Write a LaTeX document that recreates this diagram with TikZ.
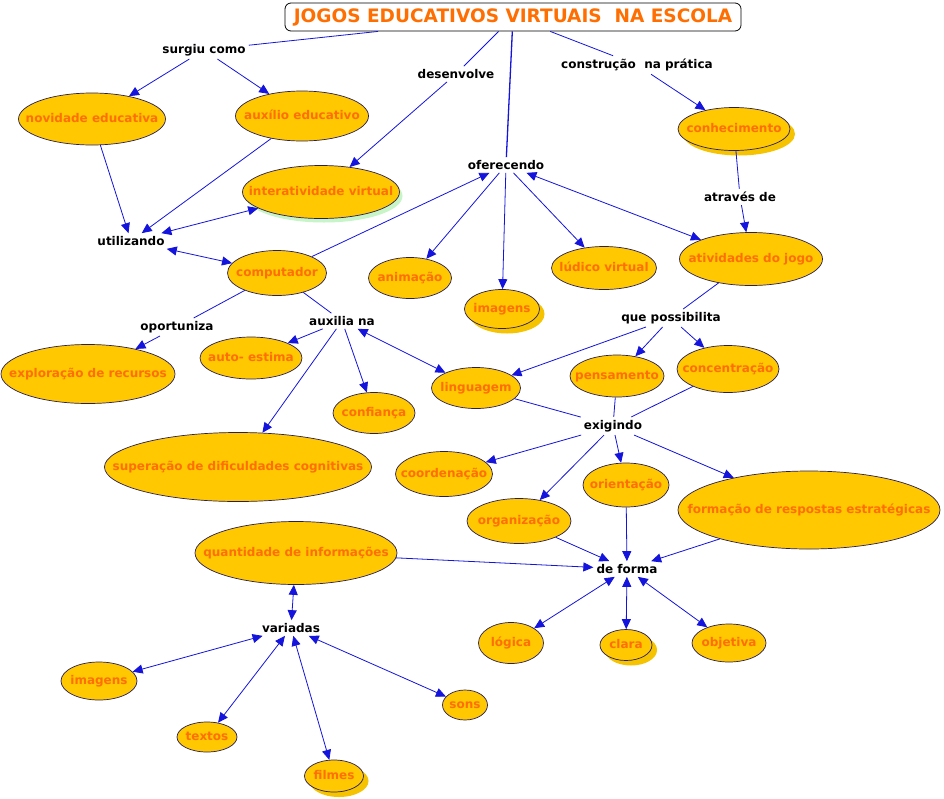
\documentclass[tikz,border=0pt]{standalone}
\usepackage{fontspec}
\setmainfont{DejaVu Sans}
\usetikzlibrary{shapes.geometric,arrows.meta,shadows}
\definecolor{cfill}{RGB}{255,200,0}
\definecolor{ctext}{RGB}{255,110,0}
\definecolor{cline}{RGB}{20,20,220}
\definecolor{cedge}{RGB}{40,30,90}
\definecolor{cshad}{RGB}{245,195,0}
\definecolor{gshad}{RGB}{200,245,200}
\newcommand\ctxt[1]{\makebox[0pt]{\raisebox{-.5ex}[0pt][0pt]{#1}}}
\begin{document}
\begin{tikzpicture}[x=1pt,y=-1pt,
  concept/.style={ellipse, draw=cedge, line width=0.7pt, fill=cfill, inner sep=0pt, text=ctext, font=\fontsize{12}{14}\selectfont\bfseries},
  linkw/.style={inner sep=3pt, font=\fontsize{12}{14}\selectfont\bfseries, text=black},
  conn/.style={draw=cline, line width=0.8pt},
  arr/.style={conn, -{Triangle[length=10pt,width=9pt]}},
  darr/.style={conn, {Triangle[length=10pt,width=9pt]}-{Triangle[length=10pt,width=9pt]}},
  yshad/.style={drop shadow={shadow xshift=5pt, shadow yshift=-5pt, fill=cshad, draw=none, opacity=1}},
  gshadow/.style={drop shadow={shadow xshift=3pt, shadow yshift=-4pt, fill=gshad, draw=none, opacity=1}},
]
\path[use as bounding box, fill=white] (0,0) rectangle (944,798);

% title
\node[draw=black, rounded corners=6pt, line width=0.8pt, minimum width=456pt, minimum height=28pt, inner sep=0pt, text=ctext, font=\fontsize{18.5}{21}\selectfont\bfseries] (title) at (513,17) {JOGOS EDUCATIVOS VIRTUAIS\ \ NA ESCOLA};

% linking phrases
\node[linkw] (surg) at (204,50) {surgiu como};
\node[linkw] (desen) at (456,74) {desenvolve};
\node[linkw] (constr) at (637,65) {construção\ \ na prática};
\node[linkw] (ofer) at (506,165) {oferecendo};
\node[linkw] (atrav) at (740,197) {através de};
\node[linkw] (util) at (131,241) {utilizando};
\node[linkw] (oport) at (177,327) {oportuniza};
\node[linkw] (auxna) at (342,321) {auxilia na};
\node[linkw] (quep) at (671,318) {que possibilita};
\node[linkw] (exig) at (613,426) {exigindo};
\node[linkw] (defor) at (627,569) {de forma};
\node[linkw] (varia) at (291,628) {variadas};

% concepts
\node[concept, minimum width=147pt, minimum height=52pt] (nov) at (92,119) {\ctxt{novidade educativa}};
\node[concept, minimum width=133pt, minimum height=50pt] (auxed) at (302,116) {\ctxt{auxílio educativo}};
\node[concept, gshadow, minimum width=157pt, minimum height=53pt] (inter) at (321,192) {\ctxt{interatividade virtual}};
\node[concept, yshad, minimum width=112pt, minimum height=43pt] (conh) at (734,129) {\ctxt{conhecimento}};
\node[concept, minimum width=99pt, minimum height=45pt] (comp) at (277,273) {\ctxt{computador}};
\node[concept, minimum width=83pt, minimum height=41pt] (anim) at (410,278) {\ctxt{animação}};
\node[concept, yshad, minimum width=75pt, minimum height=39pt] (img1) at (502,309) {\ctxt{imagens}};
\node[concept, minimum width=105pt, minimum height=43pt] (ludi) at (604,268) {\ctxt{lúdico virtual}};
\node[concept, minimum width=143pt, minimum height=53pt] (ativ) at (751,259) {\ctxt{atividades do jogo}};
\node[concept, minimum width=174pt, minimum height=59pt] (explo) at (88,374) {\ctxt{exploração de recursos}};
\node[concept, minimum width=102pt, minimum height=42pt] (autoe) at (251,358) {\ctxt{auto- estima}};
\node[concept, minimum width=82pt, minimum height=41pt] (conf) at (374,413) {\ctxt{confiança}};
\node[concept, minimum width=89pt, minimum height=41pt] (lingu) at (476,388) {\ctxt{linguagem}};
\node[concept, minimum width=94pt, minimum height=42pt] (pens) at (617,376) {\ctxt{pensamento}};
\node[concept, minimum width=102pt, minimum height=47pt] (conc) at (728,369) {\ctxt{concentração}};
\node[concept, minimum width=267pt, minimum height=69pt] (super) at (238,467) {\ctxt{superação de dificuldades cognitivas}};
\node[concept, minimum width=97pt, minimum height=45pt] (coord) at (444,474) {\ctxt{coordenação}};
\node[concept, minimum width=86pt, minimum height=44pt] (orien) at (626,485) {\ctxt{orientação}};
\node[concept, minimum width=262pt, minimum height=78pt] (forma) at (809,510) {\ctxt{formação de respostas estratégicas}};
\node[concept, minimum width=104pt, minimum height=45pt] (organ) at (519,521) {\ctxt{organização}};
\node[concept, minimum width=202pt, minimum height=63pt] (quant) at (296,553) {\ctxt{quantidade de informações}};
\node[concept, minimum width=65pt, minimum height=41pt] (logi) at (511,643) {\ctxt{lógica}};
\node[concept, yshad, minimum width=52pt, minimum height=31pt] (clara) at (626,645) {\ctxt{clara}};
\node[concept, minimum width=74pt, minimum height=38pt] (objet) at (729,643) {\ctxt{objetiva}};
\node[concept, minimum width=76pt, minimum height=38pt] (img2) at (99,681) {\ctxt{imagens}};
\node[concept, minimum width=60pt, minimum height=30pt] (text) at (207,737) {\ctxt{textos}};
\node[concept, yshad, minimum width=59pt, minimum height=32pt] (film) at (334,776) {\ctxt{filmes}};
\node[concept, minimum width=45pt, minimum height=30pt] (sons) at (465,705) {\ctxt{sons}};

% connectors
\draw[conn] (title) -- (surg);
\draw[arr] (surg) -- (nov);
\draw[arr] (surg) -- (auxed);
\draw[conn] (title) -- (desen);
\draw[arr] (desen) -- (inter);
\draw[conn, line width=1.3pt] (title) -- (ofer);
\draw[conn] (title) -- (constr);
\draw[arr] (constr) -- (conh);
\draw[conn] (conh) -- (atrav);
\draw[arr] (atrav) -- (ativ);
\draw[arr] (nov) -- (util);
\draw[arr] (auxed) -- (util);
\draw[darr] (util) -- (inter);
\draw[darr] (util) -- (comp);
\draw[arr] (comp) -- (ofer);
\draw[arr] (ofer) -- (anim);
\draw[arr] (ofer) -- (img1);
\draw[arr] (ofer) -- (ludi);
\draw[darr] (ofer) -- (ativ);
\draw[conn] (ativ) -- (quep);
\draw[arr] (quep) -- (lingu);
\draw[arr] (quep) -- (pens);
\draw[arr] (quep) -- (conc);
\draw[conn] (comp) -- (oport);
\draw[arr] (oport) -- (explo);
\draw[conn] (comp) -- (auxna);
\draw[arr] (auxna) -- (autoe);
\draw[arr] (auxna) -- (super);
\draw[arr] (auxna) -- (conf);
\draw[darr] (auxna) -- (lingu);
\draw[conn] (lingu) -- (exig);
\draw[conn] (pens) -- (exig);
\draw[conn] (conc) -- (exig);
\draw[arr] (exig) -- (coord);
\draw[arr] (exig) -- (organ);
\draw[arr] (exig) -- (orien);
\draw[arr] (exig) -- (forma);
\draw[arr] (organ) -- (defor);
\draw[arr] (orien) -- (defor);
\draw[arr] (forma) -- (defor);
\draw[arr] (quant) -- (defor);
\draw[darr] (defor) -- (logi);
\draw[darr] (defor) -- (clara);
\draw[darr] (defor) -- (objet);
\draw[darr] (quant) -- (varia);
\draw[darr] (varia) -- (img2);
\draw[darr] (varia) -- (text);
\draw[darr] (varia) -- (film);
\draw[darr] (varia) -- (sons);
\end{tikzpicture}
\end{document}
